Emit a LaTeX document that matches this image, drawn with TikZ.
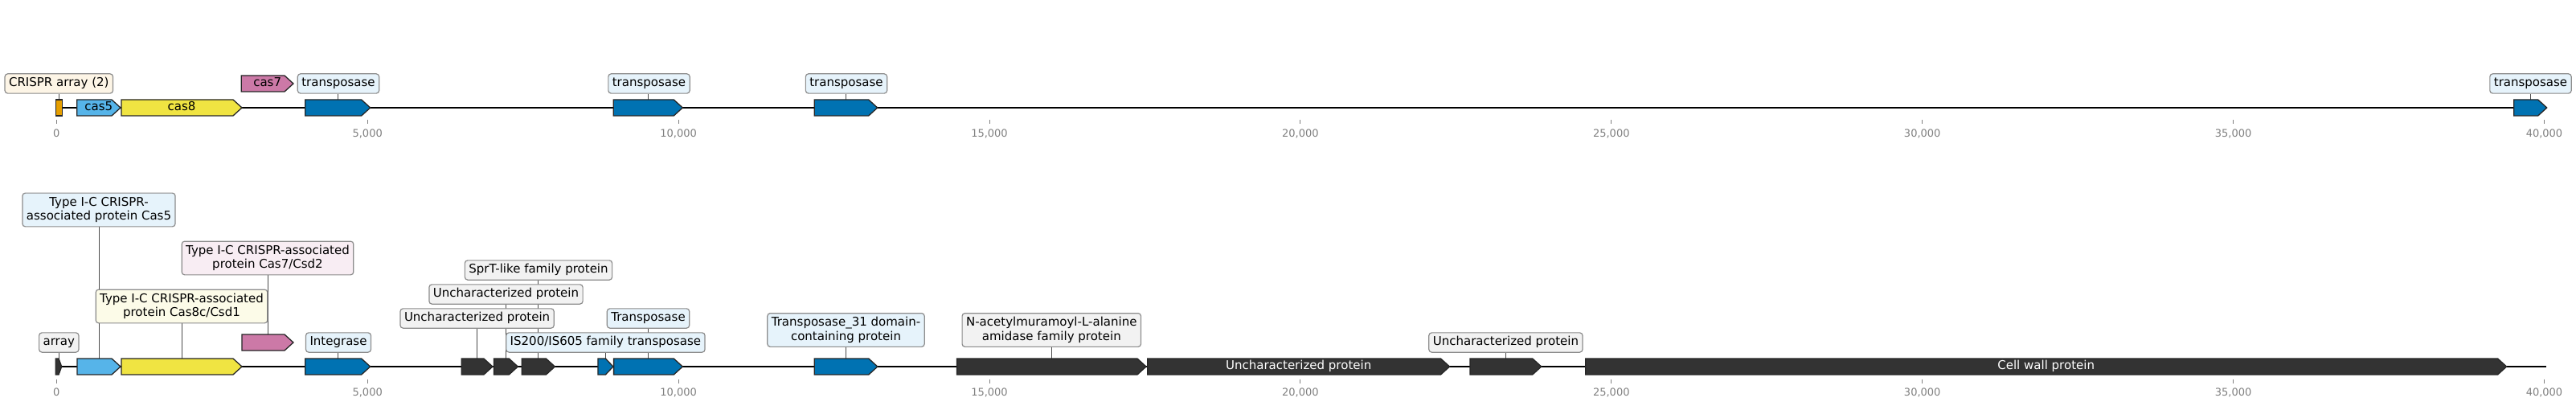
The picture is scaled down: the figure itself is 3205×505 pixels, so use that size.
\documentclass[tikz,border=0pt]{standalone}
\usepackage{fontspec}
\setmainfont{DejaVu Sans}
\pgfdeclarelayer{bgfill}
\pgfdeclarelayer{bg}
\pgfsetlayers{bgfill,bg,main}
\definecolor{cSky}{HTML}{56B4E9}
\definecolor{cYel}{HTML}{F0E442}
\definecolor{cPur}{HTML}{CC79A7}
\definecolor{cBlu}{HTML}{0072B2}
\definecolor{cOra}{HTML}{E69F00}
\definecolor{cDrk}{HTML}{333333}
\definecolor{lBlu}{HTML}{E6F3FB}
\definecolor{lPur}{HTML}{F8EDF3}
\definecolor{lYel}{HTML}{FCFBE8}
\definecolor{lOra}{HTML}{FDF5E6}
\definecolor{lGry}{HTML}{F2F2F2}
\tikzset{
  genebox/.style={draw=black!85, line width=1.3pt, line join=miter},
  lab/.style={draw=black!45, line width=1.2pt, rounded corners=3.5pt, inner xsep=5pt, inner ysep=4.8pt,
    font=\fontsize{15}{17.4}\selectfont, text height=11.3pt, text depth=3.4pt},
  labtwo/.style={draw=black!45, line width=1.2pt, rounded corners=3.5pt, inner xsep=5pt, inner ysep=2pt,
    font=\fontsize{15}{17.4}\selectfont, align=center, minimum height=41.7pt},
  intext/.style={font=\fontsize{15}{17.4}\selectfont, inner sep=0pt, text height=11.3pt, text depth=3.4pt},
  conn/.style={draw=black!70, line width=0.9pt},
  tickmark/.style={draw=black!50, line width=1pt},
  ticklab/.style={text=black!50, font=\fontsize{13}{15}\selectfont, inner sep=0pt},
  backbone/.style={line width=2.2pt, black}
}
\newcommand{\gn}[5]{%
  \pgfmathsetmacro{\hl}{min(11,0.5*(#3-#2))}%
  \path[genebox, fill=#5] (#2,#4-10) -- ({#3-\hl},#4-10) -- (#3,#4) -- ({#3-\hl},#4+10) -- (#2,#4+10) -- cycle;
  \coordinate (#1) at ({(#2+#3)/2},#4-10);
  \coordinate (#1c) at ({(#2+#3)/2},#4);
}
\begin{document}
\begin{tikzpicture}[x=1pt,y=-1pt]
\useasboundingbox (0,0) rectangle (3205,505);
\begin{pgfonlayer}{bgfill}
  \fill[white] (0,0) rectangle (3205,505);
\end{pgfonlayer}

% ---------- axes / ticks ----------
\foreach \i/\t in {0/0,1/{5,000},2/{10,000},3/{15,000},4/{20,000},5/{25,000},6/{30,000},7/{35,000},8/{40,000}}{
  \pgfmathsetmacro{\xx}{70.3+\i*386.9}
  \draw[tickmark] (\xx,149.5) -- (\xx,154);
  \node[ticklab] (tt\i) at (\xx,166) {\t};
  \draw[tickmark] (\xx,471.7) -- (\xx,476.7);
  \node[ticklab] (bt\i) at (\xx,488) {\t};
}

% ---------- top row genes ----------
\path[genebox, fill=cOra] (69.3,124) rectangle (77.3,144);
\coordinate (tarr) at (73.3,124);
\gn{tcasv}{95.7}{150}{134}{cSky}
\gn{tcase}{151}{301}{134}{cYel}
\gn{tcass}{300.3}{365}{104}{cPur}
\gn{ttpa}{379.7}{460.7}{134}{cBlu}
\gn{ttpb}{763.3}{849.3}{134}{cBlu}
\gn{ttpc}{1013.3}{1091.7}{134}{cBlu}
\gn{ttpd}{3127.7}{3168.7}{134}{cBlu}
\node[intext] (tcasvt) at (tcasvc) {cas5};
\node[intext] (tcaset) at (tcasec) {cas8};
\node[intext] (tcasst) at (tcassc) {cas7};

% top labels
\node[lab, fill=lOra] (Ltarr) at (73.3,104) {CRISPR array (2)};
\node[lab, fill=lBlu] (Lttpa) at (421,104) {transposase};
\node[lab, fill=lBlu] (Lttpb) at (807.5,104) {transposase};
\node[lab, fill=lBlu] (Lttpc) at (1053,104) {transposase};
\node[lab, fill=lBlu] (Lttpd) at (3148.5,104) {transposase};

% ---------- bottom row genes ----------
\gn{barr}{69.3}{76.7}{456}{cDrk}
\gn{bcasv}{96}{150}{456}{cSky}
\gn{bcase}{151}{301}{456}{cYel}
\gn{bcass}{301}{365}{426}{cPur}
\gn{bint}{379.7}{460.7}{456}{cBlu}
\gn{bda}{574.3}{612.9}{456}{cDrk}
\gn{bdb}{614.6}{644.3}{456}{cDrk}
\gn{bdc}{649.3}{690.4}{456}{cDrk}
\gn{bis}{743.9}{762.9}{456}{cBlu}
\gn{btp}{763.6}{849.3}{456}{cBlu}
\gn{btpt}{1013.3}{1091.8}{456}{cBlu}
\gn{bnac}{1190.6}{1426}{456}{cDrk}
\gn{bunb}{1427.8}{1803.5}{456}{cDrk}
\gn{buns}{1829}{1917.7}{456}{cDrk}
\gn{bcw}{1972.7}{3118.6}{456}{cDrk}
\node[intext, text=white] (bunbt) at (bunbc) {Uncharacterized protein};
\node[intext, text=white] (bcwt) at (bcwc) {Cell wall protein};

% bottom labels
\node[lab, fill=lGry] (Lbarr) at (73.3,426) {array};
\node[labtwo, fill=lBlu] (Lbcasv) at (123,261) {Type I-C CRISPR-\\associated protein Cas5};
\node[labtwo, fill=lPur] (Lbcass) at (333,321) {Type I-C CRISPR-associated\\protein Cas7/Csd2};
\node[labtwo, fill=lYel] (Lbcase) at (226,381) {Type I-C CRISPR-associated\\protein Cas8c/Csd1};
\node[lab, fill=lBlu] (Lbint) at (421,426) {Integrase};
\node[lab, fill=lGry] (Lbdc) at (670,336) {SprT-like family protein};
\node[lab, fill=lGry] (Lbdb) at (629.5,366) {Uncharacterized protein};
\node[lab, fill=lGry] (Lbda) at (593.6,396) {Uncharacterized protein};
\node[lab, fill=lBlu] (Lbtp) at (806.5,396) {Transposase};
\node[lab, fill=lBlu] (Lbis) at (753.4,426) {IS200/IS605 family transposase};
\node[labtwo, fill=lBlu] (Lbtpt) at (1052.5,410.5) {Transposase\_31 domain-\\containing protein};
\node[labtwo, fill=lGry] (Lbnac) at (1308.3,410.5) {N-acetylmuramoyl-L-alanine\\amidase family protein};
\node[lab, fill=lGry] (Lbuns) at (1873.4,426) {Uncharacterized protein};

% ---------- background: backbone and connectors ----------
\begin{pgfonlayer}{bg}
  \draw[backbone] (70.3,134) -- (3168,134);
  \draw[backbone] (70.3,456) -- (3168,456);
  \foreach \g in {tarr,ttpa,ttpb,ttpc,ttpd}{
    \draw[conn] (\g) -- (\g |- L\g.south);
  }
  \foreach \g in {barr,bcasv,bcass,bcase,bint,bdc,bdb,bda,btp,bis,btpt,bnac,buns}{
    \draw[conn] (\g) -- (\g |- L\g.south);
  }
\end{pgfonlayer}
\end{tikzpicture}
\end{document}
